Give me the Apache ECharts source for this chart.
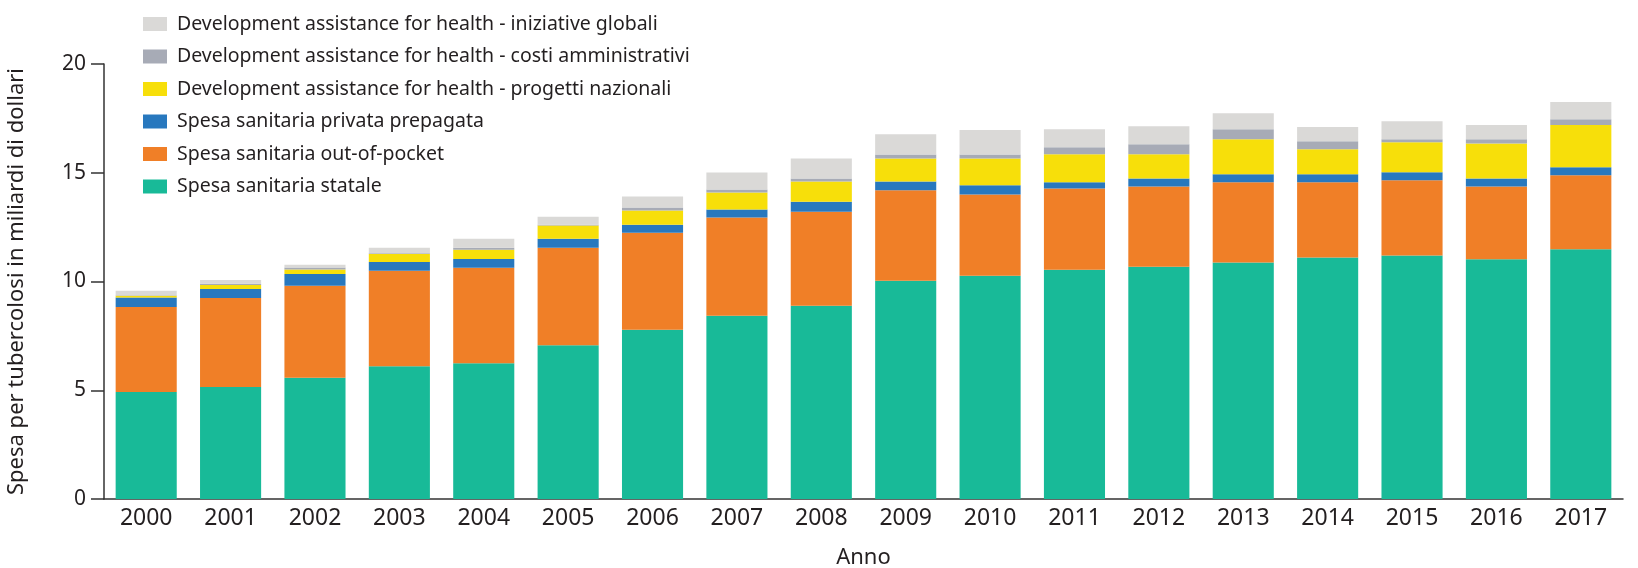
<!DOCTYPE html>
<html lang="it">
<head>
    <meta charset="UTF-8">
    <title>Spesa per tubercolosi</title>
    <script src="https://cdn.jsdelivr.net/npm/echarts@6.0.0/dist/echarts.min.js"></script>
    <style>
        html, body { margin: 0; padding: 0; background: #fff; }
    </style>
</head>
<body>
    <div id="main" style="width: 1638px;height:568px;"></div>
    <script type="text/javascript">
        // categorie (anni)
        var anni = ['2000', '2001', '2002', '2003', '2004', '2005', '2006', '2007', '2008',
                    '2009', '2010', '2011', '2012', '2013', '2014', '2015', '2016', '2017'];

        // valori in miliardi di dollari
        var spesaStatale = [4.92, 5.15, 5.57, 6.10, 6.24, 7.07, 7.78, 8.43, 8.89,
                            10.03, 10.27, 10.54, 10.68, 10.87, 11.10, 11.20, 11.02, 11.48];
        var spesaOutOfPocket = [3.91, 4.09, 4.23, 4.39, 4.39, 4.48, 4.46, 4.51, 4.32,
                                4.16, 3.73, 3.74, 3.69, 3.69, 3.46, 3.45, 3.35, 3.40];
        var spesaPrivata = [0.43, 0.42, 0.55, 0.41, 0.41, 0.42, 0.37, 0.37, 0.46,
                            0.41, 0.42, 0.28, 0.37, 0.37, 0.37, 0.37, 0.37, 0.37];
        var dahProgetti = [0.09, 0.18, 0.20, 0.37, 0.42, 0.60, 0.65, 0.78, 0.93,
                           1.06, 1.24, 1.29, 1.11, 1.61, 1.15, 1.38, 1.61, 1.94];
        var dahCosti = [0.02, 0.06, 0.09, 0.03, 0.09, 0.04, 0.14, 0.14, 0.13,
                        0.18, 0.18, 0.32, 0.46, 0.46, 0.37, 0.14, 0.19, 0.27];
        var dahGlobali = [0.20, 0.17, 0.13, 0.25, 0.42, 0.37, 0.51, 0.78, 0.93,
                          0.93, 1.13, 0.83, 0.83, 0.74, 0.65, 0.83, 0.65, 0.79];

        var yTicks = [0, 5, 10, 15, 20];

        var nomi = [
            'Spesa sanitaria statale',
            'Spesa sanitaria out-of-pocket',
            'Spesa sanitaria privata prepagata',
            'Development assistance for health - progetti nazionali',
            'Development assistance for health - costi amministrativi',
            'Development assistance for health - iniziative globali'
        ];
        var valori = [spesaStatale, spesaOutOfPocket, spesaPrivata, dahProgetti, dahCosti, dahGlobali];
        var colori = ['#18ba98', '#f07f27', '#2878be', '#f7df0a', '#a7abb6', '#dad9d7'];

        var testo = '#231f20';
        var font = 'Noto Sans';

        var myChart = echarts.init(document.getElementById('main'));

        var series = nomi.map(function (n, i) {
            return {
                name: n,
                type: 'bar',
                stack: 'totale',
                barCategoryGap: '27.6%',
                itemStyle: { color: colori[i] },
                data: valori[i]
            };
        });

        var option = {
            animation: false,
            textStyle: { fontFamily: font, color: testo },
            legend: {
                orient: 'vertical',
                left: 138,
                top: 9,
                itemWidth: 24,
                itemHeight: 14,
                itemGap: 12.5,
                icon: 'rect',
                data: nomi.slice().reverse(),
                textStyle: {
                    fontFamily: font,
                    fontSize: 19.5,
                    color: testo,
                    padding: [0, 0, 0, 5]
                }
            },
            grid: {
                left: 104,
                right: 15,
                top: 64,
                bottom: 69,
                containLabel: false,
                outerBoundsMode: 'none'
            },
            xAxis: {
                type: 'category',
                data: anni,
                name: 'Anno',
                nameLocation: 'middle',
                nameGap: 48,
                nameTextStyle: { fontFamily: font, fontSize: 22, color: testo },
                axisLine: { lineStyle: { color: '#333', width: 1.5 } },
                axisTick: { show: false },
                axisLabel: { fontFamily: font, fontSize: 23, color: testo, margin: 8 }
            },
            yAxis: {
                type: 'value',
                min: yTicks[0],
                max: yTicks[yTicks.length - 1],
                interval: 5,
                name: 'Spesa per tubercolosi in miliardi di dollari',
                nameLocation: 'middle',
                nameGap: 76,
                nameTextStyle: { fontFamily: font, fontSize: 22, color: testo },
                splitLine: { show: false },
                axisLine: { show: true, lineStyle: { color: '#333', width: 1.5 } },
                axisTick: { show: true, length: 13, lineStyle: { color: '#333', width: 1.5 } },
                axisLabel: { fontFamily: font, fontSize: 21, color: testo, margin: 18 }
            },
            series: series
        };

        myChart.setOption(option);
    </script>
</body>
</html>
